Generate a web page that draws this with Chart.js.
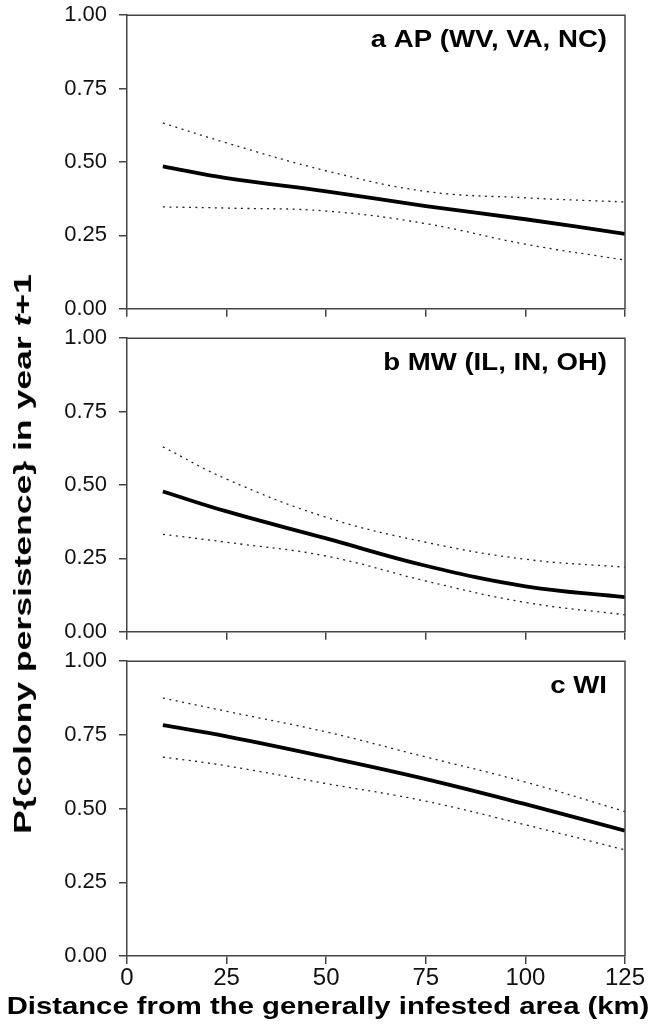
<!DOCTYPE html>
<html>
<head>
<meta charset="utf-8">
<script src="https://cdn.jsdelivr.net/npm/chart.js@4.4.1/dist/chart.umd.min.js"></script>
<style>
  html, body { margin: 0; padding: 0; background: #fff; }
  #wrap { position: relative; width: 657px; height: 1029px; overflow: hidden; }
  canvas { position: absolute; left: 0; }
  .title {
    position: absolute; white-space: nowrap;
    font: bold 24px "Liberation Sans", Arial, sans-serif; color: #000;
  }
  #ytitle { left: 23px; top: 554px; transform: translate(-50%, -50%) rotate(-90deg) scaleX(1.48); }
  #xtitle { left: 328px; top: 1006px; transform: translate(-50%, -50%) scaleX(1.22); }
</style>
</head>
<body>
<div id="wrap">
  <!-- canvases overlap a little; the plot boxes land at 15-309, 338-632, 661-956 -->
  <canvas id="chartA" width="657" height="344" style="top:-10px"></canvas>
  <canvas id="chartB" width="657" height="344" style="top:313px"></canvas>
  <canvas id="chartC" width="657" height="393" style="top:636px"></canvas>
  <div id="ytitle" class="title">P{colony persistence} in year <i>t</i>+1</div>
  <div id="xtitle" class="title">Distance from the generally infested area (km)</div>
</div>
<script>
// ============ Data ============
const distance = [9, 25, 50, 75, 100, 125];
const xTicks = [0, 25, 50, 75, 100, 125];
const yTicks = [0, 0.25, 0.5, 0.75, 1];

const apLabel = "a AP (WV, VA, NC)";
const apMean  = [0.485, 0.445, 0.400, 0.350, 0.305, 0.255];
const apUpper = [0.633, 0.565, 0.470, 0.400, 0.378, 0.364];
const apLower = [0.347, 0.343, 0.333, 0.290, 0.220, 0.166];

const mwLabel = "b MW (IL, IN, OH)";
const mwMean  = [0.478, 0.410, 0.318, 0.225, 0.155, 0.118];
const mwUpper = [0.630, 0.520, 0.390, 0.305, 0.247, 0.220];
const mwLower = [0.332, 0.305, 0.258, 0.173, 0.100, 0.058];

const wiLabel = "c WI";
const wiMean  = [0.783, 0.745, 0.675, 0.600, 0.515, 0.425];
const wiUpper = [0.875, 0.830, 0.760, 0.675, 0.590, 0.490];
const wiLower = [0.675, 0.645, 0.585, 0.525, 0.445, 0.360];

// ============ Helpers ============
const FONT = "'Liberation Sans', Arial, Helvetica, sans-serif";
const AXIS = "#444";
const pts = (arr) => distance.map((d, i) => ({ x: d, y: arr[i] }));

// frame (top + right) and panel label
const framePlugin = {
  id: "frame",
  afterDraw(chart, args, opts) {
    const { ctx, chartArea: a } = chart;
    ctx.save();
    ctx.strokeStyle = AXIS;
    ctx.lineWidth = 1.5;
    ctx.beginPath();
    ctx.moveTo(a.left, a.top);
    ctx.lineTo(a.right, a.top);
    ctx.lineTo(a.right, a.bottom);
    ctx.stroke();
    // label is a bit wider than the plain font, as in the figure
    const sx = 1.2;
    ctx.scale(sx, 1);
    ctx.fillStyle = "#000";
    ctx.font = "bold 23px " + FONT;
    ctx.textAlign = "right";
    ctx.textBaseline = "alphabetic";
    ctx.fillText(opts.label, (a.right - 18) / sx, a.top + 32);
    ctx.restore();
  }
};

function renderPanel(id, label, mean, upper, lower, withAxisLabels) {
  const ctx = document.getElementById(id).getContext("2d");
  const dotted = (arr) => ({
    data: pts(arr), borderColor: "#222", borderWidth: 1.3, borderDash: [2, 4.5],
    pointRadius: 0, tension: 0.4, fill: false
  });
  new Chart(ctx, {
    type: "line",
    data: {
      datasets: [
        { data: pts(mean), borderColor: "#000", borderWidth: 3.8, pointRadius: 0, tension: 0.4, fill: false },
        dotted(upper),
        dotted(lower)
      ]
    },
    options: {
      responsive: false,
      animation: false,
      devicePixelRatio: 1,
      layout: { padding: { top: 15, right: 32, left: 0, bottom: 0 } },
      plugins: {
        legend: { display: false },
        tooltip: { enabled: false },
        frame: { label: label }
      },
      scales: {
        x: {
          type: "linear", min: 0, max: 125,
          afterBuildTicks: (s) => { s.ticks = xTicks.map(v => ({ value: v })); },
          afterFit: (s) => { s.height = withAxisLabels ? 73 : 21; },
          grid: { drawOnChartArea: false, tickLength: 8, color: AXIS, lineWidth: 1.5 },
          border: { color: AXIS, width: 1.5 },
          ticks: {
            color: withAxisLabels ? "#111" : "rgba(0,0,0,0)",
            font: { family: FONT, size: 24 }, padding: 0, maxRotation: 0
          }
        },
        y: {
          min: 0, max: 1,
          afterBuildTicks: (s) => { s.ticks = yTicks.map(v => ({ value: v })); },
          afterFit: (s) => { s.width = 127; },
          grid: { drawOnChartArea: false, tickLength: 8, color: AXIS, lineWidth: 1.5 },
          border: { color: AXIS, width: 1.5 },
          ticks: {
            color: "#111", font: { family: FONT, size: 22 }, padding: 12,
            callback: (v) => v.toFixed(2)
          }
        }
      }
    },
    plugins: [framePlugin]
  });
}

// ============ Init ============
renderPanel("chartA", apLabel, apMean, apUpper, apLower, false);
renderPanel("chartB", mwLabel, mwMean, mwUpper, mwLower, false);
renderPanel("chartC", wiLabel, wiMean, wiUpper, wiLower, true);
</script>
</body>
</html>
